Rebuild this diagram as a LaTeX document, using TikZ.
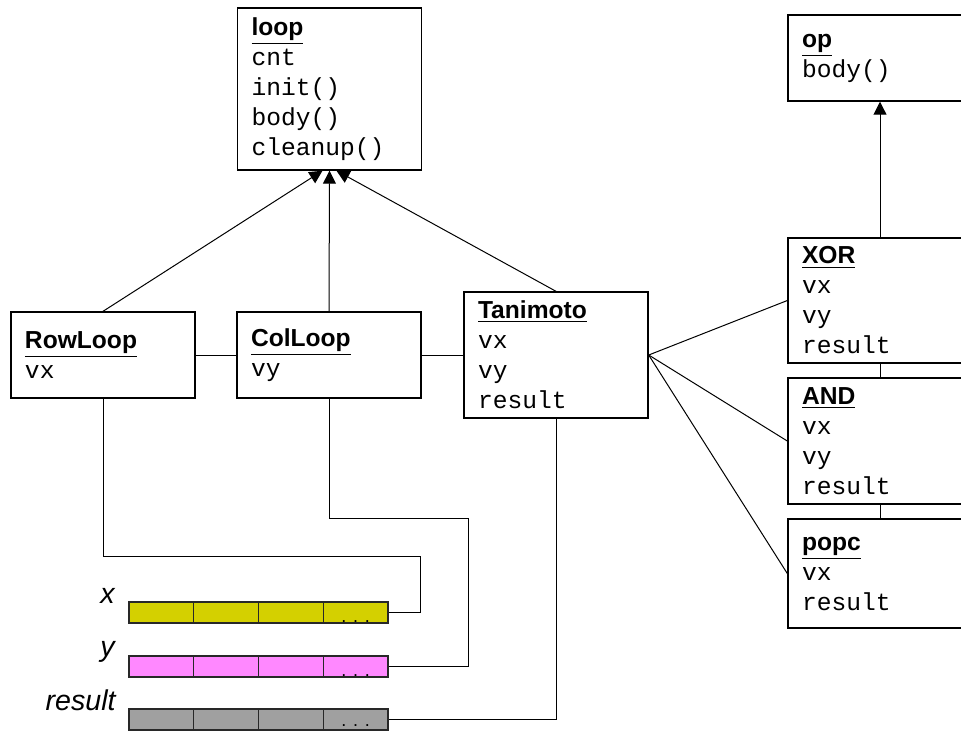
\documentclass[tikz,border=0pt]{standalone}
\usepackage{fontspec}
\setmainfont{Liberation Sans}
\setsansfont{Liberation Sans}
\setmonofont{Liberation Mono}
\usetikzlibrary{arrows.meta}
\definecolor{xfill}{RGB}{212,208,0}
\definecolor{yfill}{RGB}{255,136,255}
\definecolor{rfill}{RGB}{160,160,160}
\definecolor{cellline}{RGB}{40,40,40}
\newcommand{\cname}[1]{\underline{\textsf{\textbf{#1}}}}
\begin{document}
\begin{tikzpicture}[x=0.5pt,y=-0.5pt,
  classbox/.style={draw,line width=0.7pt,text width=78pt,inner xsep=7pt,align=left,
    font=\fontsize{12.3}{15}\selectfont\ttfamily},
  cell/.style={draw=cellline,line width=0.7pt,minimum width=32.4pt,minimum height=10.5pt,inner sep=0pt},
  wire/.style={line width=0.5pt},
  isa/.style={line width=0.5pt,-{Triangle[length=6.5pt,width=6.5pt]}},
  arrname/.style={anchor=base east,inner sep=0pt,font=\fontsize{14.3}{14.3}\selectfont\sffamily\itshape},
  celldots/.style={anchor=base,inner sep=0pt,font=\fontsize{9}{9}\selectfont}]
  \clip (0,0) rectangle (961,730);
  % classes
  \node[classbox,minimum height=81pt] (loop) at (329.5,89) {\cname{loop}\\cnt\\init()\\body()\\cleanup()};
  \node[classbox,minimum height=43pt] (op) at (880,58) {\cname{op}\\body()};
  \node[classbox,minimum height=43pt] (RowLoop) at (103,355) {\cname{RowLoop}\\vx};
  \node[classbox,minimum height=43pt] (ColLoop) at (329,355) {\cname{ColLoop}\\vy};
  \node[classbox,minimum height=63pt] (Tanimoto) at (556,355) {\cname{Tanimoto}\\vx\\vy\\result};
  \node[classbox,minimum height=62.5pt] (XOR) at (880,300.5) {\cname{XOR}\\vx\\vy\\result};
  \node[classbox,minimum height=63pt] (AND) at (880,441) {\cname{AND}\\vx\\vy\\result};
  \node[classbox,minimum height=54.5pt] (popc) at (880,573.5) {\cname{popc}\\vx\\result};
  % arrays
  \foreach \i in {1,...,4} {
    \node[cell,fill=xfill] (x\i) at ({129+64.75*(\i-0.5)},612.5) {};
    \node[cell,fill=yfill] (y\i) at ({129+64.75*(\i-0.5)},666.5) {};
    \node[cell,fill=rfill] (r\i) at ({129+64.75*(\i-0.5)},719.5) {};
  }
  \node[celldots] (xdots) at ([yshift=0.6pt]x4.south) {. . .};
  \node[celldots] (ydots) at ([yshift=0.6pt]y4.south) {. . .};
  \node[celldots] (rdots) at ([yshift=2pt]r4.south) {. . .};
  \node[arrname] (xname) at (115,603) {x};
  \node[arrname] (yname) at (115,656) {y};
  \node[arrname] (rname) at (116,710) {result};
  % inheritance
  \draw[isa] (RowLoop.north) -- ([xshift=-3.5pt]loop.south);
  \draw[isa] (ColLoop.north) -- (loop.south);
  \draw[isa] (Tanimoto.north) -- ([xshift=3.5pt]loop.south);
  \draw[isa] (XOR) -- (op);
  % links
  \draw[wire] (RowLoop) -- (ColLoop);
  \draw[wire] (ColLoop) -- (Tanimoto);
  \draw[wire] (Tanimoto.east) -- (XOR.west);
  \draw[wire] (Tanimoto.east) -- (AND.west);
  \draw[wire] (Tanimoto.east) -- (popc.west);
  \draw[wire] (XOR) -- (AND);
  \draw[wire] (AND) -- (popc);
  % data
  \coordinate (xbend) at (420,556);
  \coordinate (ybend) at (468,518);
  \draw[wire] (RowLoop.south) |- (xbend) |- (x4.east);
  \draw[wire] (ColLoop.south) |- (ybend) |- (y4.east);
  \draw[wire] (Tanimoto.south) |- (r4.east);
\end{tikzpicture}
\end{document}
